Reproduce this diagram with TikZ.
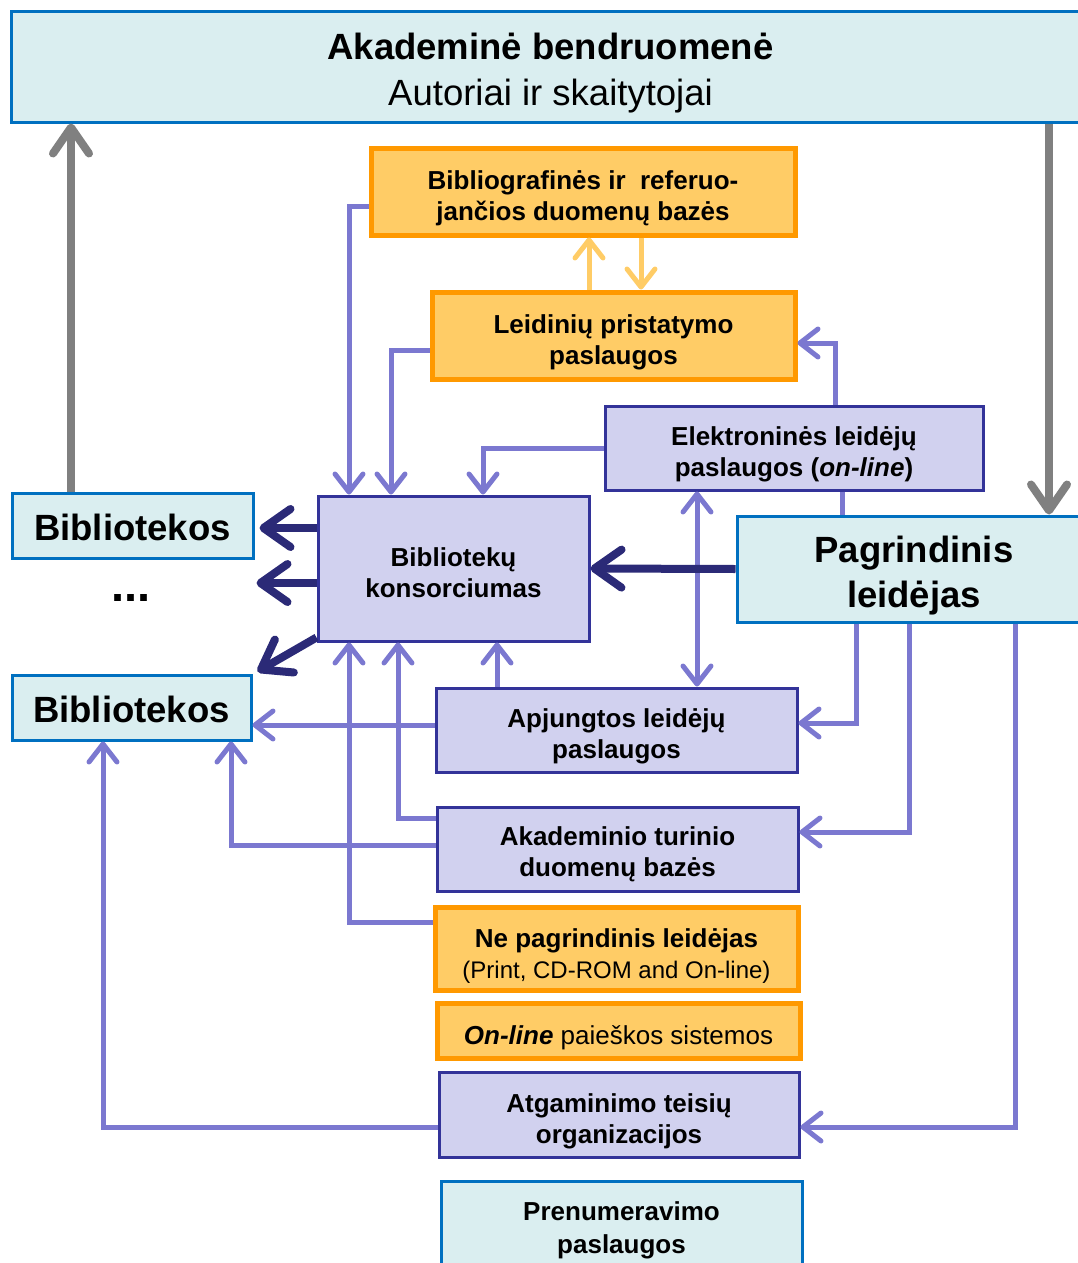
\documentclass[tikz,border=0pt]{standalone}
\usepackage{fontspec}
\setmainfont{Liberation Sans}
\usetikzlibrary{arrows.meta}

\definecolor{cyanfill}{HTML}{DAEEF0}
\definecolor{cyanedge}{HTML}{0070C0}
\definecolor{orfill}{HTML}{FFCC66}
\definecolor{oredge}{HTML}{FF9900}
\definecolor{lavfill}{HTML}{D1D1EF}
\definecolor{lavedge}{HTML}{333399}
\definecolor{lavline}{HTML}{7B78D0}
\definecolor{navyline}{HTML}{2B2A77}
\definecolor{grayline}{HTML}{808080}
% invisible rule that pushes the first line of a box down
\newcommand{\padtop}[1]{\rule{0pt}{#1}}

\begin{document}
\begin{tikzpicture}[x=1pt,y=-1pt,
  cyanbox/.style={draw=cyanedge,fill=cyanfill,line width=3pt,inner sep=0pt,align=center},
  orbox/.style={draw=oredge,fill=orfill,line width=5pt,inner sep=0pt,align=center},
  lavbox/.style={draw=lavedge,fill=lavfill,line width=3pt,inner sep=0pt,align=center},
  midtext/.style={font=\fontsize{26}{31}\selectfont\bfseries},
  bigtext/.style={font=\fontsize{36.5}{45}\selectfont\bfseries},
  lavarrow/.style={draw=lavline,line width=5pt,-{Straight Barb[length=18pt,width=28pt,round]}},
  lavboth/.style={draw=lavline,line width=5pt,{Straight Barb[length=18pt,width=28pt,round]}-{Straight Barb[length=18pt,width=28pt,round]}},
  orarrow/.style={draw=orfill,line width=5pt,-{Straight Barb[length=18pt,width=28pt,round]}},
  navyarrow/.style={draw=navyline,line width=8pt,-{Straight Barb[length=27pt,width=38pt,round]}},
  grayarrow/.style={draw=grayline,line width=8pt,-{Straight Barb[length=26pt,width=36pt,round]}}]
  \useasboundingbox (0,0) rectangle (1078,1263);
  % boxes
  \node[cyanbox,minimum width=1079pt,minimum height=110pt,font=\fontsize{36.5}{46}\selectfont]
    (acadcom) at (550.5,67) {\padtop{39pt}\textbf{Akademinė bendruomenė}\\Autoriai ir skaitytojai};
  \node[orbox,midtext,minimum width=424pt,minimum height=87pt] (bibdb) at (583,191.5)
    {\padtop{32pt}Bibliografinės ir~ referuo-\\jančios duomenų bazės};
  \node[orbox,midtext,minimum width=363pt,minimum height=87pt] (deliv) at (613.5,335.5)
    {\padtop{32pt}Leidinių pristatymo\\paslaugos};
  \node[lavbox,midtext,minimum width=378pt,minimum height=84pt] (elserv) at (794,448)
    {\padtop{32pt}Elektroninės leidėjų\\paslaugos (\textit{on-line})};
  \node[lavbox,midtext,minimum width=271pt,minimum height=145pt] (cons) at (453.5,568.5)
    {\padtop{28pt}Bibliotekų\\konsorciumas};
  \node[cyanbox,bigtext,minimum width=354pt,minimum height=106pt] (mainpub) at (914,569)
    {\padtop{40pt}Pagrindinis\\leidėjas};
  \node[cyanbox,bigtext,minimum width=241pt,minimum height=65pt] (libA) at (132.5,525.5) {\padtop{31pt}Bibliotekos};
  \node[font=\fontsize{47}{50}\selectfont\bfseries,anchor=base] (dots) at (131,601) {...};
  \node[cyanbox,bigtext,minimum width=239pt,minimum height=65pt] (libB) at (131.5,707.5) {\padtop{31pt}Bibliotekos};
  \node[lavbox,midtext,minimum width=361pt,minimum height=84pt] (aggr) at (616.5,730)
    {\padtop{32pt}Apjungtos leidėjų\\paslaugos};
  \node[lavbox,midtext,minimum width=361pt,minimum height=84pt] (acaddb) at (617.5,849)
    {\padtop{29pt}Akademinio turinio\\duomenų bazės};
  \node[orbox,midtext,minimum width=363pt,minimum height=83pt] (minor) at (616.5,948.5)
    {\padtop{33pt}Ne pagrindinis leidėjas\\{\fontsize{24}{30}\selectfont\mdseries (Print, CD-ROM and On-line)}};
  \node[orbox,minimum width=363pt,minimum height=55pt,font=\fontsize{26}{31}\selectfont] (search) at (618.5,1030.5)
    {\padtop{33pt}\textbf{\textit{On-line}} paieškos sistemos};
  \node[lavbox,midtext,minimum width=360pt,minimum height=85pt] (rights) at (619,1114.5)
    {\padtop{32pt}Atgaminimo teisių\\organizacijos};
  \node[cyanbox,font=\fontsize{26}{33}\selectfont\bfseries,minimum width=361pt,minimum height=94pt] (subs) at (621.5,1228)
    {\padtop{24pt}Prenumeravimo\\paslaugos};
  % connectors
  \draw[grayarrow] ([xshift=-61.5pt]libA.north) -- ([xshift=-479.5pt]acadcom.south);
  \draw[grayarrow] ([xshift=498.5pt]acadcom.south) -- ([xshift=135pt]mainpub.north);
  \draw[lavarrow] ([yshift=-15pt]bibdb.west) -| ([xshift=-104.5pt]cons.north);
  \draw[lavarrow] ([yshift=-15pt]deliv.west) -| ([xshift=-62.5pt]cons.north);
  \draw[lavarrow] (elserv.west) -| ([xshift=29.5pt]cons.north);
  \draw[lavarrow] ([xshift=41pt]elserv.north) |- ([yshift=-7.5pt]deliv.east);
  \draw[draw=lavline,line width=5pt] ([xshift=48pt]elserv.south) -- ([xshift=-72pt]mainpub.north);
  \draw[lavboth] ([xshift=-97pt]elserv.south) -- ([xshift=80.5pt]aggr.north);
  \draw[orarrow] ([xshift=-24.5pt]deliv.north) -- ([xshift=6pt]bibdb.south);
  \draw[orarrow] ([xshift=58pt]bibdb.south) -- ([xshift=27.5pt]deliv.north);
  \draw[navyarrow] (mainpub.west) -- (cons.east);
  \draw[navyarrow] ([yshift=40.5pt]cons.west) -- ([xshift=5pt,yshift=-2.5pt]libA.east);
  \draw[navyarrow] ([yshift=-14.5pt]cons.west) -- ++(-60,0);
  \draw[navyarrow] ([yshift=5pt]cons.south west) -- ([xshift=5pt,yshift=2pt]libB.north east);
  \draw[lavarrow] ([xshift=-58pt]mainpub.south) |- ([yshift=7pt]aggr.east);
  \draw[lavarrow] ([xshift=-5pt]mainpub.south) |- ([yshift=17pt]acaddb.east);
  \draw[lavarrow] ([xshift=101pt]mainpub.south) |- ([yshift=-12.5pt]rights.east);
  \draw[lavarrow] ([yshift=-12.5pt]rights.west) -| ([xshift=-28.5pt]libB.south);
  \draw[lavarrow] ([yshift=4pt]acaddb.west) -| ([xshift=99.5pt]libB.south);
  \draw[lavarrow] ([yshift=31pt]acaddb.west) -| ([xshift=-55.5pt]cons.south);
  \draw[lavarrow] ([yshift=26.5pt]minor.west) -| ([xshift=-104.5pt]cons.south);
  \draw[lavarrow] ([xshift=-119.5pt]aggr.north) -- ([xshift=43.5pt]cons.south);
  \draw[lavarrow] ([yshift=5pt]aggr.west) -- ([yshift=-17.5pt]libB.east);
\end{tikzpicture}
\end{document}
